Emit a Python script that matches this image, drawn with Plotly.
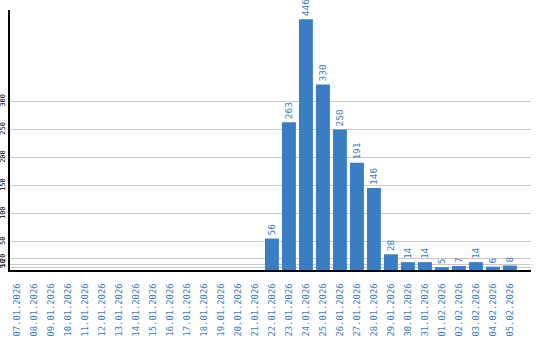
import plotly.graph_objects as go

dates = ["07.01.2026","08.01.2026","09.01.2026","10.01.2026","11.01.2026","12.01.2026",
         "13.01.2026","14.01.2026","15.01.2026","16.01.2026","17.01.2026","18.01.2026",
         "19.01.2026","20.01.2026","21.01.2026","22.01.2026","23.01.2026","24.01.2026",
         "25.01.2026","26.01.2026","27.01.2026","28.01.2026","29.01.2026","30.01.2026",
         "31.01.2026","01.02.2026","02.02.2026","03.02.2026","04.02.2026","05.02.2026"]
values = [0,0,0,0,0,0,0,0,0,0,0,0,0,0,0,56,263,446,330,250,191,146,28,14,14,5,7,14,6,8]
y_ticks = [5, 10, 20, 50, 100, 150, 200, 250, 300]

labels = [str(v) if v > 0 else "" for v in values]

fig = go.Figure(go.Bar(
    x=list(range(len(dates))), y=values, text=labels,
    textposition="outside", textangle=-90, cliponaxis=False, constraintext="none",
    textfont=dict(family="DejaVu Sans Mono", size=9.5, color="#3a7ec2"),
    marker=dict(color="#3b7dc3", line=dict(width=0)),
    width=0.82,
))
fig.update_layout(
    width=540, height=340, margin=dict(l=10, r=9, t=10, b=70, autoexpand=False),
    paper_bgcolor="white", plot_bgcolor="white", showlegend=False,
    font=dict(family="DejaVu Sans Mono"),
)
fig.update_xaxes(
    tickmode="array", tickvals=list(range(len(dates))), ticktext=dates,
    tickangle=-90, range=[-0.41, 30.24], showgrid=False, ticks="", automargin=False,
    ticklabelstandoff=8,
    tickfont=dict(family="DejaVu Sans Mono", size=8.8, color="#3a7ec2"),
    showline=True, linecolor="black", linewidth=2, zeroline=False,
)
fig.update_yaxes(
    tickmode="array", tickvals=y_ticks, ticktext=[str(t) for t in y_ticks],
    tickangle=-90, range=[0, 462.5], showgrid=True, gridcolor="#c8c8c8", gridwidth=1,
    tickfont=dict(family="DejaVu Sans Mono", size=7, color="black"), ticks="", automargin=False,
    ticklabelstandoff=0,
    showline=True, linecolor="black", linewidth=2, zeroline=False,
)
fig.write_html("out.html")
